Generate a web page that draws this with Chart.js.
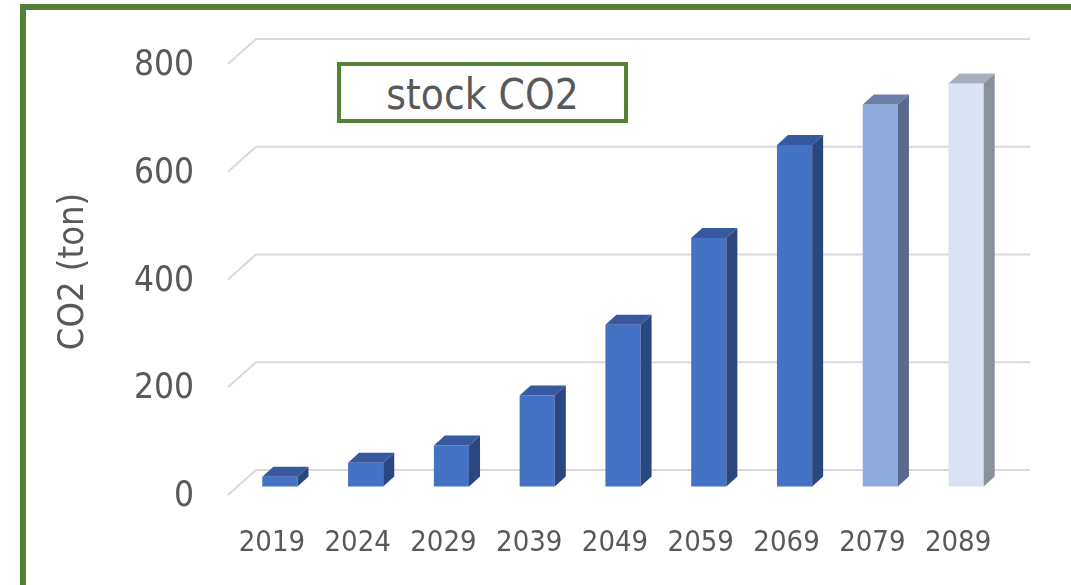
<!DOCTYPE html>
<html>
<head>
<meta charset="utf-8">
<script src="https://cdn.jsdelivr.net/npm/chart.js@4.4.1/dist/chart.umd.min.js"></script>
<style>
  html, body { margin: 0; padding: 0; background: #fff; overflow: hidden; }
  #wrap { position: relative; width: 1071px; height: 585px; }
  #frame {
    position: absolute; left: 20px; top: 4px; width: 1100px; height: 640px;
    border-left: 6px solid #538135; border-top: 6px solid #538135;
  }
  #titleBox {
    position: absolute; left: 337px; top: 62px; width: 283px; height: 53px;
    border: 4px solid #538135; background: #fff;
    font: 42px "Liberation Sans Narrow", "DejaVu Sans Condensed", sans-serif;
    color: #595959; text-align: center; line-height: 57px;
  }
</style>
</head>
<body>
<div id="wrap">
  <canvas id="chart" width="1071" height="585"></canvas>
  <div id="frame"></div>
  <div id="titleBox">stock CO2</div>
</div>
<script>
  // datos
  const years = ['2019', '2024', '2029', '2039', '2049', '2059', '2069', '2079', '2089'];
  const stockCO2 = [19, 45, 77, 170, 301, 462, 635, 710, 749];
  const yTicks = [0, 200, 400, 600, 800];

  // colores: cara frontal, superior y lateral
  const frontColors = ['#4472C4', '#4472C4', '#4472C4', '#4472C4', '#4472C4', '#4472C4', '#4472C4', '#8FAADC', '#DAE3F3'];
  const topColors = ['#3659A0', '#3659A0', '#3659A0', '#3659A0', '#3659A0', '#3659A0', '#3659A0', '#6C81AA', '#A7AFBD'];
  const sideColors = ['#2B4780', '#2B4780', '#2B4780', '#2B4780', '#2B4780', '#2B4780', '#2B4780', '#5A6A8B', '#8A919C'];

  const narrow = '"Liberation Sans Narrow", "DejaVu Sans Condensed", sans-serif';
  const DX = 11, DY = 10;

  // lineas de la cuadricula en perspectiva
  const perspectiveGrid = {
    id: 'perspectiveGrid',
    beforeDatasetsDraw(chart) {
      const { ctx, chartArea } = chart;
      const y = chart.scales.y;
      ctx.save();
      ctx.strokeStyle = '#D9D9D9';
      ctx.lineWidth = 2;
      yTicks.forEach(v => {
        const py = y.getPixelForValue(v);
        ctx.beginPath();
        ctx.moveTo(chartArea.left - 9, py + 8);
        ctx.lineTo(chartArea.left + 19, py - 17);
        ctx.lineTo(chartArea.right + 21, py - 17);
        ctx.stroke();
      });
      ctx.restore();
    }
  };

  // caras superior y lateral de las barras
  const bars3d = {
    id: 'bars3d',
    afterDatasetsDraw(chart) {
      const { ctx } = chart;
      const meta = chart.getDatasetMeta(0);
      ctx.save();
      meta.data.forEach((bar, i) => {
        const l = bar.x - bar.width / 2, r = bar.x + bar.width / 2;
        const t = bar.y, b = bar.base;
        ctx.fillStyle = topColors[i];
        ctx.beginPath();
        ctx.moveTo(l, t);
        ctx.lineTo(l + DX, t - DY);
        ctx.lineTo(r + DX, t - DY);
        ctx.lineTo(r, t);
        ctx.closePath();
        ctx.fill();
        ctx.fillStyle = sideColors[i];
        ctx.beginPath();
        ctx.moveTo(r, t);
        ctx.lineTo(r + DX, t - DY);
        ctx.lineTo(r + DX, b - DY);
        ctx.lineTo(r, b);
        ctx.closePath();
        ctx.fill();
      });
      ctx.restore();
    }
  };

  new Chart(document.getElementById('chart'), {
    type: 'bar',
    data: {
      labels: years,
      datasets: [{
        label: 'stock CO2',
        data: stockCO2,
        backgroundColor: frontColors,
        borderWidth: 0,
        categoryPercentage: 1,
        barPercentage: 0.41
      }]
    },
    options: {
      responsive: false,
      animation: false,
      layout: { padding: { left: 0, right: 62, top: 56, bottom: 0 } },
      plugins: {
        legend: { display: false },
        tooltip: { enabled: false }
      },
      scales: {
        x: {
          grid: { display: false },
          border: { display: false },
          ticks: {
            color: '#595959',
            font: { family: narrow, size: 29 },
            padding: 31,
            labelOffset: -8,
            maxRotation: 0
          },
          afterFit(s) { s.height = 98; }
        },
        y: {
          min: 0,
          max: 800,
          // marcas invisibles para separar las etiquetas del eje
          grid: { display: true, drawOnChartArea: false, drawTicks: true, tickLength: 40, color: 'rgba(0,0,0,0)' },
          border: { display: false },
          ticks: {
            stepSize: 200,
            color: '#595959',
            font: { family: narrow, size: 35 },
            padding: 3,
            labelOffset: 10
          },
          title: {
            display: true,
            text: 'CO2 (ton)',
            color: '#595959',
            font: { family: narrow, size: 36 },
            padding: { top: 52, bottom: 0 }
          },
          afterFit(s) { s.width = 237; }
        }
      }
    },
    plugins: [perspectiveGrid, bars3d]
  });
</script>
</body>
</html>
